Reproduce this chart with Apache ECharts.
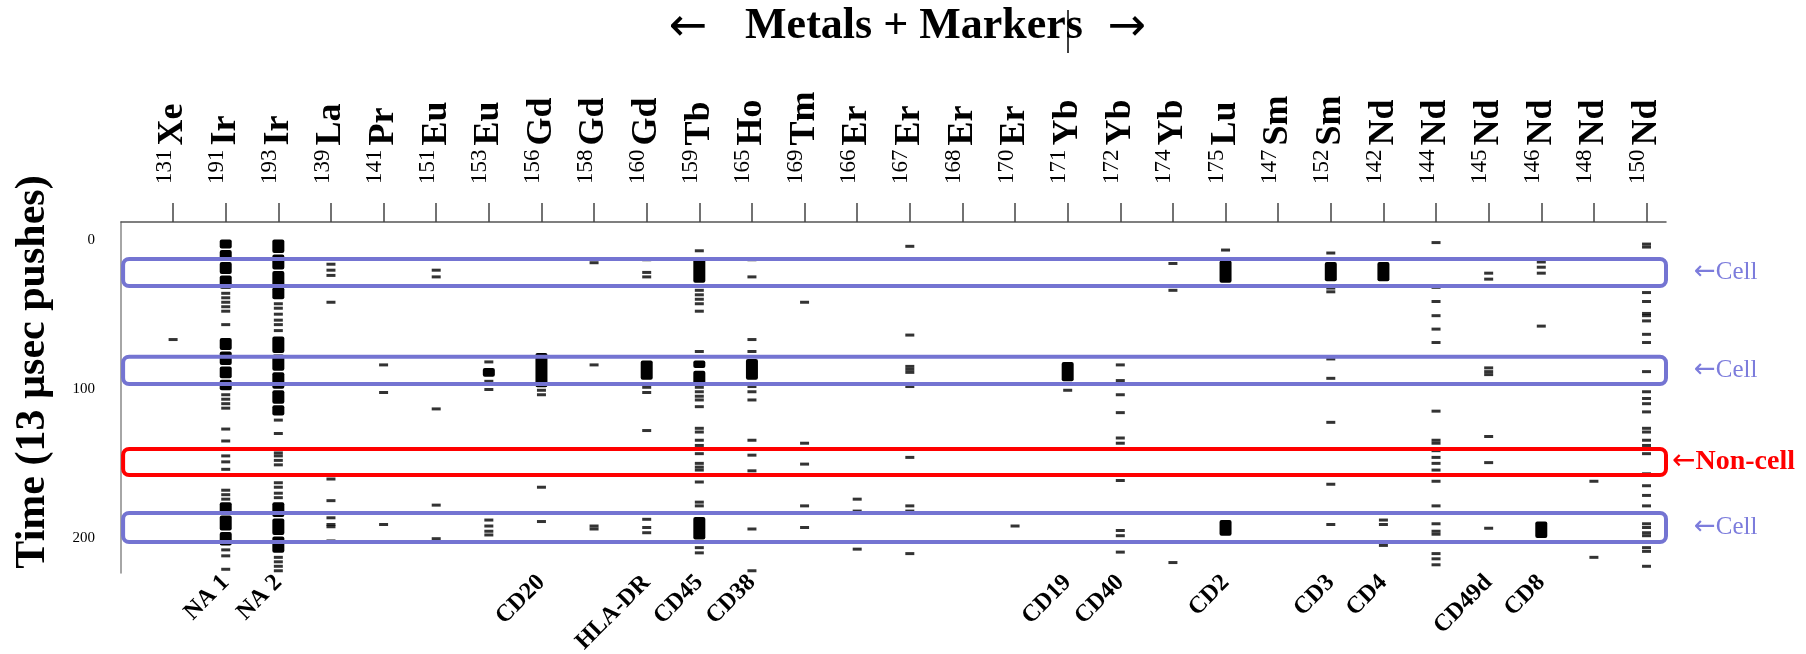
<!DOCTYPE html>
<html>
<head>
<meta charset="utf-8">
<script src="https://cdn.jsdelivr.net/npm/echarts@6/dist/echarts.min.js"></script>
<style>
  html, body { margin: 0; padding: 0; background: #fff; }
  #chart { width: 1806px; height: 654px; }
</style>
</head>
<body>
<div id="chart"></div>
<script>
// Mass channels, left to right
const massNumbers = ['131','191','193','139','141','151','153','156','158','160','159','165','169','166','167','168','170','171','172','174','175','147','152','142','144','145','146','148','150'];
const elements    = ['Xe','Ir','Ir','La','Pr','Eu','Eu','Gd','Gd','Gd','Tb','Ho','Tm','Er','Er','Er','Er','Yb','Yb','Yb','Lu','Sm','Sm','Nd','Nd','Nd','Nd','Nd','Nd'];

// Antibody markers and the channel each one is read on
const markerNames   = ['NA 1','NA 2','CD20','HLA-DR','CD45','CD38','CD19','CD40','CD2','CD3','CD4','CD49d','CD8'];
const markerColumns = [1, 2, 7, 9, 10, 11, 17, 18, 20, 22, 23, 25, 26];

// Single ion events per channel (time in 13 µs pushes)
const xe131 = [67];
const ir191 = [36, 39, 42, 45, 48, 57, 104, 107, 110, 113, 127, 135, 140, 145, 149, 154, 168, 171, 174, 208, 212, 221];
const ir193 = [43, 46, 50, 54, 57, 61, 121, 130, 143, 145, 148, 151, 163, 166, 170, 173, 213, 216, 219, 222];
const la139 = [16.5, 20.5, 24, 42, 160.5, 175, 186.5, 191, 192.5, 202];
const pr141 = [84, 102.5, 191];
const eu151 = [20.5, 25, 113.5, 178, 200.5];
const eu153 = [82, 95, 100.5, 188, 192, 195.5, 198];
const gd156 = [101, 104, 166, 189];
const gd158 = [15.5, 84, 192, 194];
const gd160 = [13.5, 22, 25, 99, 102.5, 128, 187.5, 193, 196.5];
const tb159 = [7.5, 31, 34, 37, 40, 43, 48, 75, 99, 102, 105, 107.5, 112, 126.5, 129, 134.5, 138, 143.5, 150, 152.5, 154.5, 162.5, 176, 178.5, 206.5, 210];
const ho165 = [13.5, 25, 67, 75, 98.5, 102, 107.5, 134.5, 144.5, 155, 194, 222];
const tm169 = [42, 136.5, 150.5, 178.5, 193];
const er166 = [174, 182, 207.5];
const er167 = [4.5, 64, 85, 87, 89, 98.5, 146, 178.5, 182, 210.5];
const er168 = [];
const er170 = [192];
const yb171 = [101];
const yb172 = [84, 94.5, 104, 116, 133, 136.5, 161.5, 195, 198.5, 209.5];
const yb174 = [16, 34, 216.5];
const lu175 = [7];
const sm147 = [];
const sm152 = [9, 32.5, 35, 80, 93, 122.5, 164, 191];
const nd142 = [188, 191, 205];
const nd144 = [2, 32, 41.5, 51, 60, 69, 115, 134.5, 136.5, 141.5, 146, 150, 154.5, 162, 178.5, 190.5, 195.5, 197.5, 210.5, 214, 218];
const nd145 = [22.5, 26.5, 86, 88.5, 90.5, 132, 149.5, 193.5];
const nd146 = [15, 18.5, 22.5, 58];
const nd148 = [162, 213];
const nd150 = [3, 5, 35.5, 41.5, 49.5, 51, 54.5, 63.5, 69, 88.5, 102, 106.5, 110, 115.5, 126.5, 129, 134.5, 138, 143.5, 157, 165, 171.5, 178.5, 190.5, 193, 196.5, 198.5, 206.5, 209, 219];

const channelEvents = [xe131, ir191, ir193, la139, pr141, eu151, eu153, gd156, gd158, gd160, tb159, ho165, tm169,
  er166, er167, er168, er170, yb171, yb172, yb174, lu175, sm147, sm152, nd142, nd144, nd145, nd146, nd148, nd150];

// Dense bursts of events: [channel, first push, last push]
const bursts = [
  [1, 0, 6], [1, 7, 14], [1, 15, 23], [1, 24, 33],
  [1, 66, 74], [1, 75, 84], [1, 85, 93], [1, 94, 101],
  [1, 176, 184], [1, 185, 195], [1, 196, 205],
  [2, 0, 9], [2, 10, 20], [2, 21, 31], [2, 32, 40],
  [2, 65, 76], [2, 77, 88], [2, 89, 100], [2, 101, 110], [2, 111, 118],
  [2, 176, 186], [2, 187, 198], [2, 199, 210],
  [6, 86, 92],
  [7, 76, 99],
  [9, 81, 94],
  [10, 12, 29], [10, 81, 86], [10, 88, 97], [10, 186, 201],
  [11, 80, 94],
  [17, 82, 95],
  [20, 14, 29], [20, 188, 198.5],
  [22, 15, 28],
  [23, 15, 28],
  [26, 189, 200]
];

// Gated time windows: [start, end]
const cellWindows    = [[13, 31.1], [78.5, 96.8], [183.2, 202.7]];
const nonCellWindows = [[140.3, 157.8]];

const yTickValues = [0, 100, 200];

// ---- build series data ----
const eventPoints = [];
channelEvents.forEach((list, col) => list.forEach(t => eventPoints.push([col, t])));

const windowRows = cellWindows.map(w => [w[0], w[1], 0]).concat(nonCellWindows.map(w => [w[0], w[1], 1]));

const colIdx = massNumbers.map((_, i) => i);
const X_MIN = -0.99, X_MAX = 28.37;
const serif = '"Liberation Serif", "Times New Roman", serif';
const arrowFont = '"DejaVu Sans", sans-serif';
const cellBlue = '#7474d2';
const cellText = '#7c7cdc';
const red = '#ff0000';

const chart = echarts.init(document.getElementById('chart'), null, { renderer: 'canvas' });

chart.setOption({
  animation: false,
  backgroundColor: '#fff',
  grid: { left: 121, top: 222, width: 1545, height: 351, containLabel: false, outerBoundsMode: 'none' },
  xAxis: [
    {
      type: 'value', position: 'top', min: X_MIN, max: X_MAX,
      splitLine: { show: false },
      axisLine: { show: true, onZero: false, lineStyle: { color: '#555', width: 1.5 } },
      axisTick: { show: true, customValues: colIdx, length: 19, lineStyle: { color: '#444', width: 1.5 } },
      axisLabel: {
        customValues: colIdx,
        rotate: -90,
        margin: 38,
        formatter: v => '{m|' + massNumbers[v] + '}{e|' + elements[v] + '}',
        rich: {
          m: { fontFamily: serif, fontSize: 23, color: '#000', verticalAlign: 'top', padding: [0, 4, 0, 0] },
          e: { fontFamily: serif, fontSize: 36, fontWeight: 'bold', color: '#000', lineHeight: 40 }
        }
      }
    },
    {
      type: 'value', position: 'bottom', min: X_MIN, max: X_MAX,
      splitLine: { show: false },
      axisLine: { show: false, onZero: false },
      axisTick: { show: false },
      axisLabel: {
        customValues: markerColumns,
        rotate: 45,
        margin: 6,
        fontFamily: serif, fontSize: 24, fontWeight: 'bold', color: '#000',
        formatter: v => markerNames[markerColumns.indexOf(v)]
      }
    }
  ],
  yAxis: {
    type: 'value', inverse: true, min: -11.8, max: 223.5,
    splitLine: { show: false },
    axisLine: { show: true, onZero: false, lineStyle: { color: '#888', width: 1.5 } },
    axisTick: { show: false, customValues: yTickValues },
    axisLabel: { customValues: yTickValues, margin: 26, fontFamily: serif, fontSize: 15, color: '#000' }
  },
  graphic: [
    { type: 'text', x: 688, y: 28, style: { text: '←', align: 'center', verticalAlign: 'middle', font: '46px ' + arrowFont, fill: '#000' } },
    { type: 'text', x: 914, y: 27, style: { text: 'Metals + Markers', align: 'center', verticalAlign: 'middle', font: 'bold 44px ' + serif, fill: '#000' } },
    { type: 'text', x: 1127, y: 28, style: { text: '→', align: 'center', verticalAlign: 'middle', font: '46px ' + arrowFont, fill: '#000' } },
    { type: 'line', shape: { x1: 1068, y1: 10, x2: 1068, y2: 53 }, style: { stroke: '#000', lineWidth: 1.5 } },
    {
      type: 'text', x: 33, y: 372, rotation: Math.PI / 2,
      style: {
        text: 'Time (13 µsec pushes)', align: 'center', verticalAlign: 'middle',
        font: 'bold 42px ' + serif, fill: '#000'
      }
    }
  ],
  series: [
    {
      // dense bursts
      type: 'custom', xAxisIndex: 0, z: 2,
      data: bursts,
      renderItem: (params, api) => {
        const p0 = api.coord([api.value(0), api.value(1)]);
        const p1 = api.coord([api.value(0), api.value(2)]);
        return {
          type: 'rect',
          shape: { x: p0[0] - 6, y: p0[1], width: 12, height: Math.max(2, p1[1] - p0[1]), r: 2 },
          style: { fill: '#000' }
        };
      }
    },
    {
      // single events
      type: 'scatter', xAxisIndex: 0, z: 3,
      symbol: 'rect', symbolSize: [9, 3],
      itemStyle: { color: '#000' },
      data: eventPoints
    },
    {
      // gated windows and their labels
      type: 'custom', xAxisIndex: 0, z: 5,
      data: windowRows,
      renderItem: (params, api) => {
        const a = api.coord([X_MIN + 0.04, api.value(0)]);
        const b = api.coord([X_MAX, api.value(1)]);
        const isCell = api.value(2) === 0;
        const color = isCell ? cellBlue : red;
        const mid = (a[1] + b[1]) / 2;
        return {
          type: 'group',
          children: [
            {
              type: 'rect',
              shape: { x: a[0], y: a[1], width: b[0] - a[0], height: b[1] - a[1], r: 6 },
              style: { fill: 'none', stroke: color, lineWidth: 4 }
            },
            {
              type: 'text',
              x: b[0] + (isCell ? 28 : 6), y: mid,
              style: {
                text: '{a|←}{t|' + (isCell ? 'Cell' : 'Non-cell') + '}',
                align: 'left', verticalAlign: 'middle',
                rich: {
                  a: { fontFamily: arrowFont, fontSize: isCell ? 26 : 28, fill: isCell ? cellText : red },
                  t: { fontFamily: serif, fontSize: isCell ? 25 : 28, fontWeight: isCell ? 'normal' : 'bold', fill: isCell ? cellText : red }
                }
              }
            }
          ]
        };
      }
    }
  ]
});
</script>
</body>
</html>
